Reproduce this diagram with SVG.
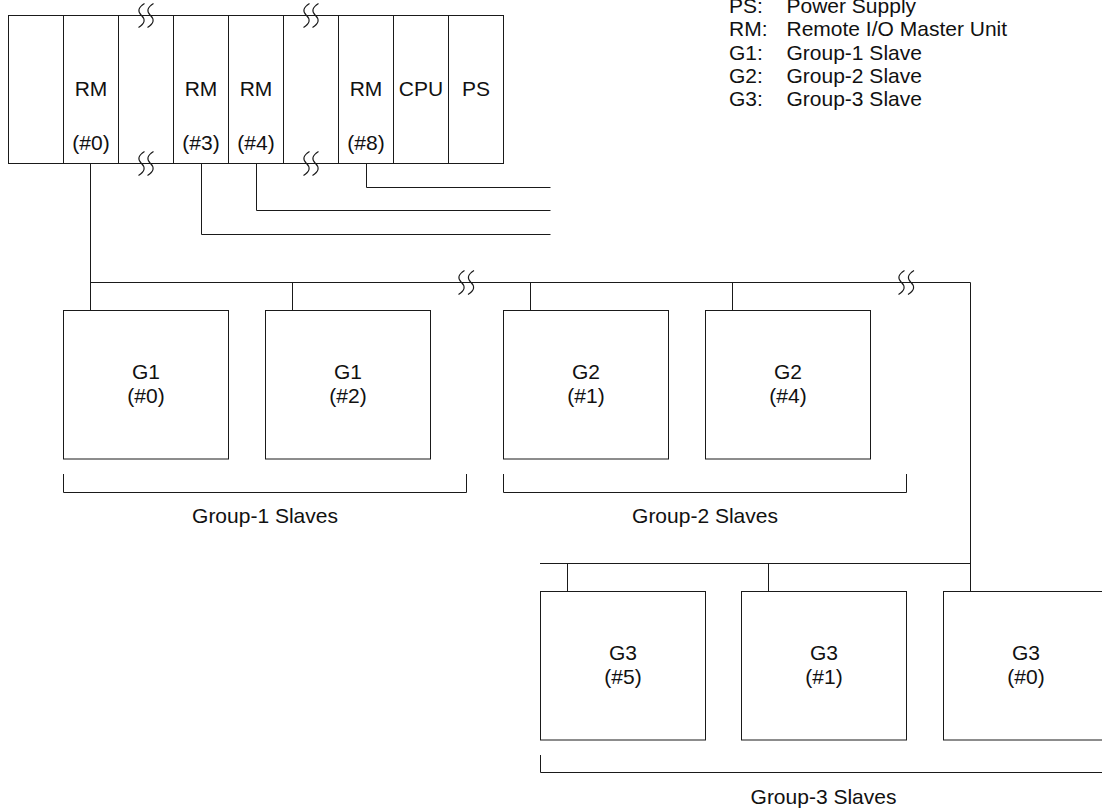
<svg xmlns="http://www.w3.org/2000/svg" width="1102" height="812" viewBox="0 0 1102 812">
<style>
.box{fill:#fff;stroke:#1a1a1a;stroke-width:1}
.ln{fill:none;stroke:#1a1a1a;stroke-width:1}
.brk{fill:none;stroke:#1a1a1a;stroke-width:1.1}
text{font-family:"Liberation Sans",Arial,sans-serif;font-size:21px;fill:#111}
.c{text-anchor:middle}
</style>
<defs>
<path id="brk" class="brk" d="M 3 -12 Q -6.5 -6 0 0 Q 6.5 6 -3 12"/>
</defs>
<rect width="1102" height="812" fill="#fff"/>

<g id="legend">
<text x="729" y="13">PS:</text><text x="786.5" y="13">Power Supply</text>
<text x="729" y="36.3">RM:</text><text x="786.5" y="36.3">Remote I/O Master Unit</text>
<text x="729" y="59.6">G1:</text><text x="786.5" y="59.6">Group-1 Slave</text>
<text x="729" y="82.9">G2:</text><text x="786.5" y="82.9">Group-2 Slave</text>
<text x="729" y="106.2">G3:</text><text x="786.5" y="106.2">Group-3 Slave</text>
</g>

<g id="rack">
<g id="slot1"><rect class="box" x="8.5" y="15.5" width="55" height="148"/></g>
<g id="slot-rm0"><rect class="box" x="63.5" y="15.5" width="55" height="148"/><text class="c" x="91" y="95.5">RM</text><text class="c" x="91" y="149.5">(#0)</text></g>
<g id="slot3"><rect class="box" x="118.5" y="15.5" width="55" height="148"/></g>
<g id="slot-rm3"><rect class="box" x="173.5" y="15.5" width="55" height="148"/><text class="c" x="201" y="95.5">RM</text><text class="c" x="201" y="149.5">(#3)</text></g>
<g id="slot-rm4"><rect class="box" x="228.5" y="15.5" width="55" height="148"/><text class="c" x="256" y="95.5">RM</text><text class="c" x="256" y="149.5">(#4)</text></g>
<g id="slot6"><rect class="box" x="283.5" y="15.5" width="55" height="148"/></g>
<g id="slot-rm8"><rect class="box" x="338.5" y="15.5" width="55" height="148"/><text class="c" x="366" y="95.5">RM</text><text class="c" x="366" y="149.5">(#8)</text></g>
<g id="slot-cpu"><rect class="box" x="393.5" y="15.5" width="55" height="148"/><text class="c" x="421" y="95.5">CPU</text></g>
<g id="slot-ps"><rect class="box" x="448.5" y="15.5" width="55" height="148"/><text class="c" x="476" y="95.5">PS</text></g>
<g id="rack-breaks">
<use href="#brk" x="141.5" y="15.5"/><use href="#brk" x="150.5" y="15.5"/>
<use href="#brk" x="306.5" y="15.5"/><use href="#brk" x="315.5" y="15.5"/>
<use href="#brk" x="141.5" y="163.5"/><use href="#brk" x="150.5" y="163.5"/>
<use href="#brk" x="306.5" y="163.5"/><use href="#brk" x="315.5" y="163.5"/>
</g>
</g>

<g id="connectors">
<path class="ln" d="M 366.5 163.5 V 187.5 H 550.5"/>
<path class="ln" d="M 256.5 163.5 V 210.5 H 550.5"/>
<path class="ln" d="M 201.5 163.5 V 234.5 H 550.5"/>
<path class="ln" d="M 90.5 163.5 V 310.5"/>
<path class="ln" d="M 90.5 282.5 H 970.5 V 591.5"/>
<path class="ln" d="M 292.5 282.5 V 310.5"/>
<path class="ln" d="M 530.5 282.5 V 310.5"/>
<path class="ln" d="M 732.5 282.5 V 310.5"/>
<path class="ln" d="M 540 563.5 H 970.5"/>
<path class="ln" d="M 567.5 563.5 V 591.5"/>
<path class="ln" d="M 768.5 563.5 V 591.5"/>
<use href="#brk" x="461.5" y="282.5"/><use href="#brk" x="471" y="282.5"/>
<use href="#brk" x="901.5" y="282.5"/><use href="#brk" x="911" y="282.5"/>
</g>

<g id="g1-0"><rect class="box" x="63.5" y="310.5" width="165" height="148.5"/><text class="c" x="146" y="379">G1</text><text class="c" x="146" y="402.5">(#0)</text></g>
<g id="g1-2"><rect class="box" x="265.5" y="310.5" width="165" height="148.5"/><text class="c" x="348" y="379">G1</text><text class="c" x="348" y="402.5">(#2)</text></g>
<g id="g2-1"><rect class="box" x="503.5" y="310.5" width="165" height="148.5"/><text class="c" x="586" y="379">G2</text><text class="c" x="586" y="402.5">(#1)</text></g>
<g id="g2-4"><rect class="box" x="705.5" y="310.5" width="165" height="148.5"/><text class="c" x="788" y="379">G2</text><text class="c" x="788" y="402.5">(#4)</text></g>
<g id="g3-5"><rect class="box" x="540.5" y="591.5" width="165" height="148.5"/><text class="c" x="623" y="660">G3</text><text class="c" x="623" y="683.5">(#5)</text></g>
<g id="g3-1"><rect class="box" x="741.5" y="591.5" width="165" height="148.5"/><text class="c" x="824" y="660">G3</text><text class="c" x="824" y="683.5">(#1)</text></g>
<g id="g3-0"><rect class="box" x="943.5" y="591.5" width="165" height="148.5"/><text class="c" x="1026" y="660">G3</text><text class="c" x="1026" y="683.5">(#0)</text></g>

<g id="group1">
<path class="ln" d="M 63.5 474 V 492.5 H 466.5 V 474"/>
<text class="c" x="265" y="522.5">Group-1 Slaves</text>
</g>
<g id="group2">
<path class="ln" d="M 503.5 474 V 492.5 H 906.5 V 474"/>
<text class="c" x="705" y="522.5">Group-2 Slaves</text>
</g>
<g id="group3">
<path class="ln" d="M 540.5 755 V 772.5 H 1106.5 V 755"/>
<text class="c" x="823.5" y="803.5">Group-3 Slaves</text>
</g>
</svg>
